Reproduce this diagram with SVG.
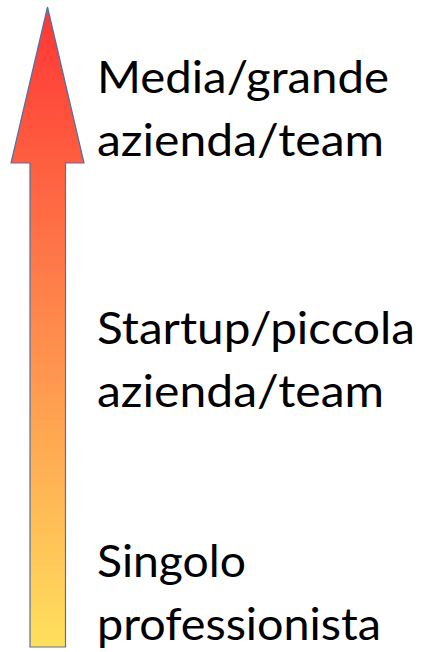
<svg xmlns="http://www.w3.org/2000/svg" width="429" height="652" viewBox="0 0 429 652">
  <defs>
    <linearGradient id="grad" gradientUnits="userSpaceOnUse" x1="0" y1="7" x2="0" y2="647">
      <stop offset="0" stop-color="#FF3535"/>
      <stop offset="0.5" stop-color="#FF8A4C"/>
      <stop offset="1" stop-color="#FFE05C"/>
    </linearGradient>
  </defs>
  <style>
    .lbl { font-family: "Lato", "Liberation Sans", sans-serif; font-size: 45px; fill: #000000; }
  </style>
  <rect width="429" height="652" fill="#FFFFFF"/>
  <g id="arrow">
    <path d="M47.5,7 L84,163 L65.5,163 L65.5,647 L30,647 L30,163 L11,163 Z" fill="url(#grad)" stroke="#4F72A8" stroke-width="1.2" stroke-linejoin="miter"/>
  </g>
  <g id="label-top">
    <text class="lbl" x="97" y="93" textLength="292" lengthAdjust="spacingAndGlyphs">Media/grande</text>
    <text class="lbl" x="97" y="156" textLength="287" lengthAdjust="spacingAndGlyphs">azienda/team</text>
  </g>
  <g id="label-middle">
    <text class="lbl" x="97" y="344" textLength="318" lengthAdjust="spacingAndGlyphs">Startup/piccola</text>
    <text class="lbl" x="97" y="407" textLength="287" lengthAdjust="spacingAndGlyphs">azienda/team</text>
  </g>
  <g id="label-bottom">
    <text class="lbl" x="97" y="577" textLength="149" lengthAdjust="spacingAndGlyphs">Singolo</text>
    <text class="lbl" x="97" y="640" textLength="284" lengthAdjust="spacingAndGlyphs">professionista</text>
  </g>
</svg>
